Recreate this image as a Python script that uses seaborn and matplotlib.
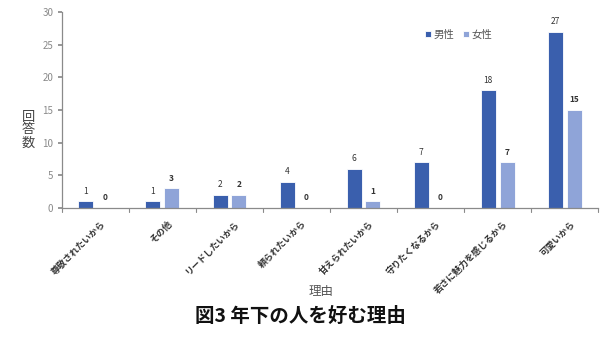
import matplotlib
matplotlib.use("Agg")
import matplotlib.pyplot as plt
import matplotlib.transforms as mtransforms
import seaborn as sns
import pandas as pd

reasons = ["尊敬されたいから", "その他", "リードしたいから", "頼られたいから",
           "甘えられたいから", "守りたくなるから", "若さに魅力を感じるから", "可愛いから"]
male = [1, 1, 2, 4, 6, 7, 18, 27]
female = [0, 3, 2, 0, 1, 0, 7, 15]
series = ["男性", "女性"]
yticks = [0, 5, 10, 15, 20, 25, 30]

df = pd.DataFrame({
    "理由": reasons * 2,
    "回答数": male + female,
    "性別": [series[0]] * len(reasons) + [series[1]] * len(reasons),
})

sns.set_theme(style="white")
plt.rcParams["font.family"] = ["Noto Sans CJK JP", "DejaVu Sans"]

fig = plt.figure(figsize=(6.0, 3.37), dpi=100)
ax = fig.add_axes([0.103, 0.383, 0.894, 0.581])

palette = {"男性": "#3a5fad", "女性": "#8fa4d8"}
sns.barplot(data=df, x="理由", y="回答数", hue="性別", order=reasons,
            hue_order=series, palette=palette, width=0.56, gap=0.2,
            edgecolor="white", linewidth=0.6, saturation=1, ax=ax)

# value labels: male regular, female bold
for cont, weight in zip(ax.containers, ["normal", "bold"]):
    ax.bar_label(cont, labels=[f"{v:g}" for v in cont.datavalues],
                 padding=4, fontsize=6, fontweight=weight, color="#333333")

ax.set_ylim(0, 30)
ax.set_xlim(-0.5, len(reasons) - 0.5)
ax.set_yticks(yticks)
ax.set_yticklabels([str(t) for t in yticks], fontsize=7, color="#8a8a8a")
ax.set_xticks(range(len(reasons)))
ax.set_xticklabels(reasons, rotation=45, ha="right", rotation_mode="anchor",
                   fontsize=6.5, fontweight="bold", color="#333333")
ax.tick_params(axis="x", length=0, pad=8)
ax.tick_params(axis="y", length=3, color="#8a8a8a", left=True, pad=3)
shift = mtransforms.ScaledTranslation(4 / 72, 0, fig.dpi_scale_trans)
for lbl in ax.get_xticklabels():
    lbl.set_transform(lbl.get_transform() + shift)

# category separator ticks on the x axis
for i in range(len(reasons) + 1):
    ax.plot([i - 0.5, i - 0.5], [0, -0.6], color="#8a8a8a", lw=0.8,
            clip_on=False)

for s in ["top", "right"]:
    ax.spines[s].set_visible(False)
for s in ["left", "bottom"]:
    ax.spines[s].set_color("#8a8a8a")
    ax.spines[s].set_linewidth(0.9)

ax.set_ylabel("")
ax.set_xlabel("")
fig.text(0.047, 1 - 130 / 337, "回\n答\n数", fontsize=9.5, color="#444444",
         ha="center", va="center", linespacing=1.0)
fig.text(0.535, 0.125, "理由", fontsize=9, color="#555555", ha="center")

leg = ax.legend(loc="upper center", bbox_to_anchor=(0.74, 0.96), ncol=2,
                frameon=False, fontsize=7.5, handlelength=0.55, handleheight=0.55,
                handletextpad=0.3, columnspacing=0.8)
for t in leg.get_texts():
    t.set_color("#555555")

fig.text(0.5, 0.045, "図3 年下の人を好む理由", fontsize=14, fontweight="bold",
         ha="center", color="#111111")

fig.savefig("out.png", dpi=100)
